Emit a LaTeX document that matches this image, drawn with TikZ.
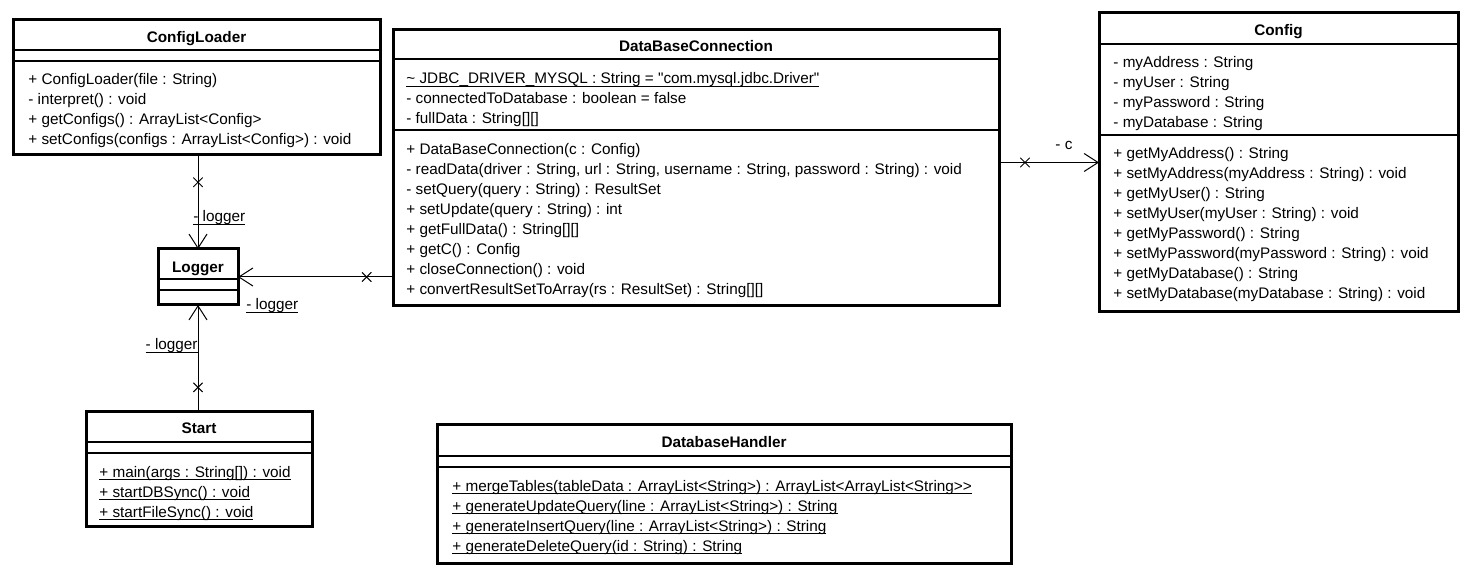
\documentclass[tikz,border=0pt]{standalone}
\usepackage{fontspec}
\newfontfamily\umlfont{Liberation Sans}
\usetikzlibrary{arrows.meta,fit,shapes.misc}
\newcommand\uln[1]{\underline{\smash{#1}}}
\begin{document}
\begin{tikzpicture}[x=0.5pt,y=-0.5pt,line cap=round,line join=round,font=\umlfont\fontsize{7.65}{10}\selectfont,
  cls/.style={draw,line width=1.5pt,inner sep=0pt,outer sep=0pt,line cap=butt,line join=miter},
  hd/.style={anchor=base,inner sep=0pt,yshift=-3pt,font=\umlfont\fontsize{7.65}{10}\selectfont\bfseries},
  row/.style={anchor=base west,inner sep=0pt,yshift=-3.5pt},
  assoc/.style={-{Straight Barb[length=7pt,width=9pt]},line width=0.5pt},
  xmark/.style={draw,cross out,inner sep=0pt,outer sep=0pt,minimum size=4.5pt,line width=0.5pt}]
            \useasboundingbox(0,0)rectangle(1470,576);
            \node[cls,fit={(13,20)(380,155)}](cfgload){};
            \node[cls,fit={(393,30)(999,306)}](dbconn){};
            \node[cls,fit={(1099,13)(1458,312)}](config){};
            \node[cls,fit={(158,249)(238,305)}](logger){};
            \node[cls,fit={(86,412)(312,526)}](start){};
            \node[cls,fit={(437,425)(1011,563)}](dbhandler){};
            \draw[line width=0.6pt](13,50)--(380,50)(13,61)--(380,61)(393,59)--(999,59)(393,130)--(999,130)(1099,44)--(1458,44)(1099,135)--(1458,135)(158,279)--(238,279)(158,290)--(238,290)(86,442)--(312,442)(86,453)--(312,453)(437,456)--(1011,456)(437,467)--(1011,467);
            \foreach \x/\y/\t in{196.5/37/ConfigLoader,696/46/DataBaseConnection,1278.5/30/Config,198/267/Logger,199/428/Start,724/441/DatabaseHandler}
            \node[hd](t-\t)at(\x,\y){\t};
            \foreach \y/\t[count=\i] in{78/{+ ConfigLoader(file : String)},98/{- interpret() : void},118/{+ getConfigs() : ArrayList<Config>},138/{+ setConfigs(configs : ArrayList<Config>) : void}}
            \node[row](cl\i)at(28,\y){\t};
            \foreach \y/\t[count=\i] in{77/{\uln{\textasciitilde{} JDBC\_DRIVER\_MYSQL : String = "com.mysql.jdbc.Driver"}},97/{- connectedToDatabase : boolean = false},117/{- fullData : String[][]}}
            \node[row](da\i)at(406,\y){\t};
            \foreach \y/\t[count=\i] in{148/{+ DataBaseConnection(c : Config)},168/{- readData(driver : String, url : String, username : String, password : String) : void},188/{- setQuery(query : String) : ResultSet},208/{+ setUpdate(query : String) : int},228/{+ getFullData() : String[][]},248/{+ getC() : Config},268/{+ closeConnection() : void},288/{+ convertResultSetToArray(rs : ResultSet) : String[][]}}
            \node[row](dm\i)at(406,\y){\t};
            \foreach \y/\t[count=\i] in{61/{- myAddress : String},81/{- myUser : String},101/{- myPassword : String},121/{- myDatabase : String}}
            \node[row](ca\i)at(1113,\y){\t};
            \foreach \y/\t[count=\i] in{152/{+ getMyAddress() : String},172/{+ setMyAddress(myAddress : String) : void},192/{+ getMyUser() : String},212/{+ setMyUser(myUser : String) : void},232/{+ getMyPassword() : String},252/{+ setMyPassword(myPassword : String) : void},272/{+ getMyDatabase() : String},292/{+ setMyDatabase(myDatabase : String) : void}}
            \node[row](cm\i)at(1113,\y){\t};
            \foreach \y/\t[count=\i] in{470/{+ main(args : String[]) : void},490/{+ startDBSync() : void},510/{+ startFileSync() : void}}
            \node[row](sm\i)at(99,\y){\uln{\t}};
            \foreach \y/\t[count=\i] in{484/{+ mergeTables(tableData : ArrayList<String>) : ArrayList<ArrayList<String>>},504/{+ generateUpdateQuery(line : ArrayList<String>) : String},524/{+ generateInsertQuery(line : ArrayList<String>) : String},544/{+ generateDeleteQuery(id : String) : String}}
            \node[row](hm\i)at(452,\y){\uln{\t}};
            \draw[assoc](cfgload.south-|logger.north)--node[xmark,pos=0.29](x1){}(logger.north);
            \draw[assoc](dbconn.west|-logger.east)--node[xmark,pos=0.17](x2){}(logger.east);
            \draw[assoc](start.north-|logger.south)--node[xmark,pos=0.23](x3){}(logger.south);
            \draw[assoc](dbconn.east|-config.west)--node[xmark,pos=0.26](x4){}(config.west);
            \node[row](lb1)at(193,215){\uln{- logger}};
            \node[row](lb2)at(246,303){\uln{- logger}};
            \node[row,anchor=base east](lb3)at(198,343){\uln{- logger}};
            \node[row](lbc)at(1055,143){- c};
        \end{tikzpicture}
\end{document}
